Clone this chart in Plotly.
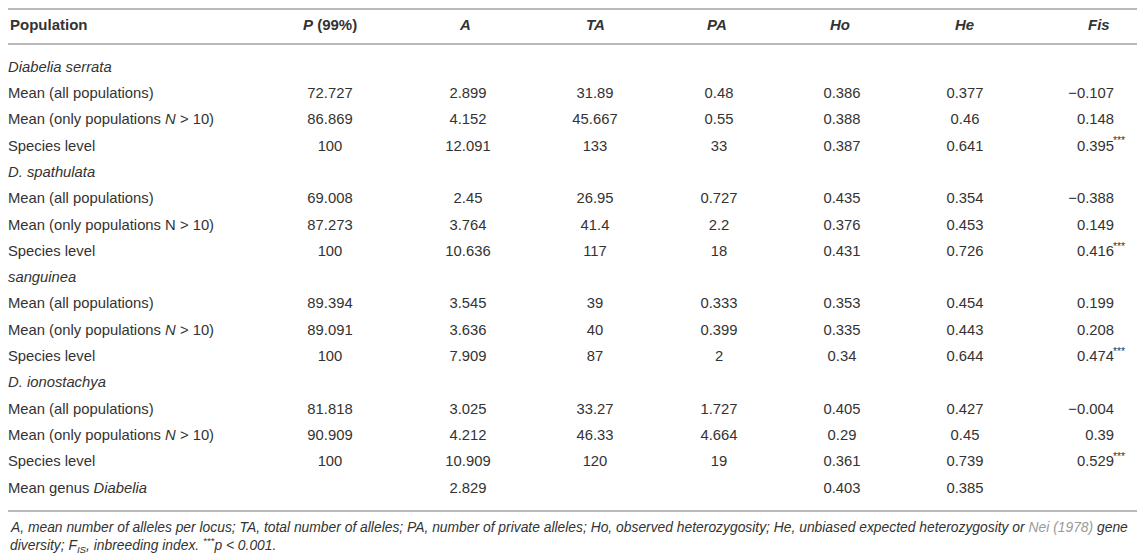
import plotly.graph_objects as go

# ---------------- data ----------------
col_headers = ["<b>Population</b>", "<b><i>P</i> (99%)</b>", "<b><i>A</i></b>", "<b><i>TA</i></b>",
               "<b><i>PA</i></b>", "<b><i>Ho</i></b>", "<b><i>He</i></b>", "<b><i>Fis</i></b>"]

row_labels = [
    "<i>Diabelia serrata</i>", "Mean (all populations)", "Mean (only populations <i>N</i> > 10)", "Species level",
    "<i>D. spathulata</i>", "Mean (all populations)", "Mean (only populations N > 10)", "Species level",
    "<i>sanguinea</i>", "Mean (all populations)", "Mean (only populations <i>N</i> > 10)", "Species level",
    "<i>D. ionostachya</i>", "Mean (all populations)", "Mean (only populations <i>N</i> > 10)", "Species level",
    "Mean genus <i>Diabelia</i>",
]

P_99 = [None, 72.727, 86.869, 100, None, 69.008, 87.273, 100, None, 89.394, 89.091, 100,
        None, 81.818, 90.909, 100, None]
A = [None, 2.899, 4.152, 12.091, None, 2.45, 3.764, 10.636, None, 3.545, 3.636, 7.909,
     None, 3.025, 4.212, 10.909, 2.829]
TA = [None, 31.89, 45.667, 133, None, 26.95, 41.4, 117, None, 39, 40, 87,
      None, 33.27, 46.33, 120, None]
PA = [None, 0.48, 0.55, 33, None, 0.727, 2.2, 18, None, 0.333, 0.399, 2,
      None, 1.727, 4.664, 19, None]
Ho = [None, 0.386, 0.388, 0.387, None, 0.435, 0.376, 0.431, None, 0.353, 0.335, 0.34,
      None, 0.405, 0.29, 0.361, 0.403]
He = [None, 0.377, 0.46, 0.641, None, 0.354, 0.453, 0.726, None, 0.454, 0.443, 0.644,
      None, 0.427, 0.45, 0.739, 0.385]
Fis = [None, -0.107, 0.148, 0.395, None, -0.388, 0.149, 0.416, None, 0.199, 0.208, 0.474,
       None, -0.004, 0.39, 0.529, None]
Fis_sig = ["", "", "", "***", "", "", "", "***", "", "", "", "***", "", "", "", "***", ""]

footnote_1 = ("<i>A, mean number of alleles per locus; TA, total number of alleles; PA, number of private "
              "alleles; Ho, observed heterozygosity; He, unbiased expected heterozygosity or "
              "<span style='color:#9a9a9a'>Nei (1978)</span> gene</i>")
footnote_2 = "<i>diversity; F<sub>IS</sub>, inbreeding index. <sup>***</sup>p &lt; 0.001.</i>"

# ---------------- layout constants (screen pixels) ----------------
W, H = 1145, 559
OFF = 8                       # page body margin of the browser page
FW, FH = W - OFF, H - OFF     # figure size so that it fits the window
TEXT = "#333333"
RULE = "#b9b9b9"
FONT = "Liberation Sans, Arial, sans-serif"
FS = 14.8            # body font size
FS_HEAD = 15         # header font size
FS_NOTE = 13.85      # footnote font size
label_x = OFF                                 # left edge of the row labels
value_centers = [330, 468, 595, 719, 842, 965]  # centres of P..He columns
fis_right = 1114                              # right edge of Fis values
header_centers = [330, 465, 595, 717, 840, 964, 1099]
first_row_px, row_pitch = 68, 26.31           # vertical placement of rows
header_px = 24
rules_px = [9, 44, 511]
note_px = [527, 545]


def fmt(v):
    if v is None:
        return ""
    return str(v).replace("-", "\u2212")


rows = list(range(len(row_labels)))

fig = go.Figure()


def add_text(xpos, texts, position):
    keep = [(r, t) for r, t in zip(rows, texts) if t]
    fig.add_trace(go.Scatter(
        x=[xpos] * len(keep), y=[r for r, _ in keep], text=[t for _, t in keep], mode="text",
        textposition=position, textfont=dict(family=FONT, size=FS, color=TEXT),
        hoverinfo="skip", showlegend=False, cliponaxis=False,
    ))


add_text(label_x, row_labels, "middle right")
for col, cx in zip([P_99, A, TA, PA, Ho, He], value_centers):
    add_text(cx, [fmt(v) for v in col], "middle center")
add_text(fis_right, [fmt(v) for v in Fis], "middle left")
add_text(fis_right - 1, [f"<sup>{s}</sup>" if s else "" for s in Fis_sig], "middle right")


def py(p):
    return 1 - (p - OFF) / FH


shapes = [dict(type="line", xref="paper", yref="paper", x0=0, x1=(1141 - OFF) / FW,
               y0=py(p), y1=py(p), line=dict(color=RULE, width=2)) for p in rules_px]

annotations = [dict(text=col_headers[0], x=0, xref="paper", xanchor="left", y=py(header_px),
                    yref="paper", yanchor="middle", showarrow=False,
                    font=dict(family=FONT, size=FS_HEAD, color=TEXT))]
for h, cx in zip(col_headers[1:], header_centers):
    annotations.append(dict(text=h, x=cx, xref="x", xanchor="center", y=py(header_px),
                            yref="paper", yanchor="middle", showarrow=False,
                            font=dict(family=FONT, size=FS_HEAD, color=TEXT)))
for note, p in zip([footnote_1, footnote_2], note_px):
    annotations.append(dict(text=note, x=0, xref="paper", xanchor="left", y=py(p),
                            yref="paper", yanchor="middle", showarrow=False,
                            font=dict(family=FONT, size=FS_NOTE, color=TEXT)))

# y axis: row index -> screen pixel (reversed)
y_top = (OFF - first_row_px) / row_pitch
y_bottom = (H - first_row_px) / row_pitch

fig.update_layout(
    width=FW, height=FH,
    margin=dict(l=0, r=0, t=0, b=0),
    paper_bgcolor="white",
    plot_bgcolor="white",
    xaxis=dict(range=[OFF, W], visible=False, fixedrange=True),
    yaxis=dict(range=[y_bottom, y_top], visible=False, fixedrange=True),
    shapes=shapes,
    annotations=annotations,
)

fig.write_html("out.html")
